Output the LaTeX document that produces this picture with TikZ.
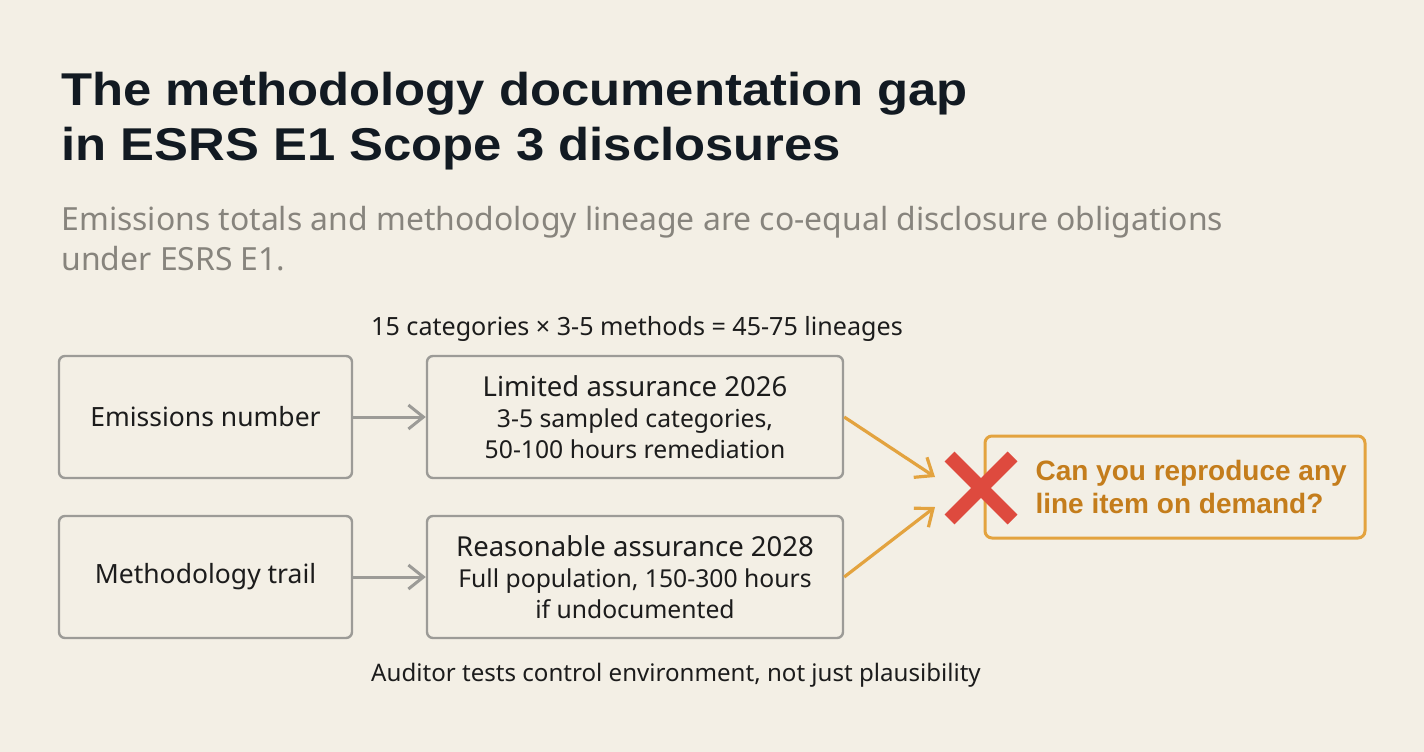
\documentclass[tikz,border=0pt]{standalone}
\usepackage{fontspec}
\setmainfont{Noto Sans}
\newfontfamily\headfont{Liberation Sans}[FakeStretch=1.105]
\newfontfamily\askfont{Liberation Sans}
\usepackage{tikz}
\usetikzlibrary{arrows.meta, shapes.misc}
\definecolor{paper}{HTML}{F3EFE5}
\definecolor{ink}{HTML}{1C1C1C}
\definecolor{headink}{HTML}{121A22}
\definecolor{subgray}{HTML}{87847D}
\definecolor{boxgray}{HTML}{9C9B97}
\definecolor{amber}{HTML}{E3A33F}
\definecolor{goldtext}{HTML}{C47D1C}
\definecolor{crossred}{HTML}{DE4A3E}

\begin{document}
\begin{tikzpicture}[x=1pt, y=-1pt, >={Straight Barb[length=15pt, width=24pt]},
  box/.style={draw=boxgray, line width=2.4pt, rounded corners=6pt, minimum height=122pt, align=center, text=ink},
  link/.style={->, draw=boxgray, line width=3pt},
  hot/.style={->, draw=amber, line width=3.2pt}]
  \fill[paper] (0,0) rectangle (1424,752);
  % title
  \node[anchor=base west, align=left, text=headink, font=\headfont\fontsize{46}{55}\selectfont\bfseries] (title) at (58,160)
    {The methodology documentation gap\\in ESRS E1 Scope 3 disclosures};
  \node[anchor=base west, align=left, text=subgray, font=\fontsize{31.9}{40}\selectfont] (sub) at (58,270)
    {Emissions totals and methodology lineage are co-equal disclosure obligations\\under ESRS E1.};
  % left column
  \node[box, minimum width=293pt, font=\fontsize{26.5}{30}\selectfont] (emis) at (205.5,417) {Emissions number};
  \node[box, minimum width=293pt, font=\fontsize{26.5}{30}\selectfont] (trail) at (205.5,577) {Methodology trail};
  % assurance boxes
  \node[box, minimum width=416pt, font=\fontsize{24.7}{31}\selectfont] (lim) at (635,417)
    {{\fontsize{27.5}{31}\selectfont Limited assurance 2026}\\3-5 sampled categories,\\50-100 hours remediation};
  \node[box, minimum width=416pt, font=\fontsize{24.7}{31}\selectfont] (reas) at (635,577)
    {{\fontsize{27.5}{31}\selectfont Reasonable assurance 2028}\\Full population, 150-300 hours\\if undocumented};
  \node[anchor=base, text=ink, font=\fontsize{25.1}{26}\selectfont] (count) at (637,335)
    {15 categories × 3-5 methods = 45-75 lineages};
  \node[anchor=base, text=ink, font=\fontsize{24.1}{26}\selectfont] (audit) at (676,681)
    {Auditor tests control environment, not just plausibility};
  \draw[link] (emis) -- (lim);
  \draw[link] (trail) -- (reas);
  % outcome
  \node[draw=amber, line width=3pt, rounded corners=7pt, minimum width=380pt, minimum height=102pt] (goal) at (1175,487) {};
  \node[anchor=west, align=left, text=goldtext, font=\askfont\fontsize{28}{33}\selectfont\bfseries] (ask) at (1032,487)
    {Can you reproduce any\\line item on demand?};
  \node[cross out, draw=crossred, line width=14pt, minimum size=63pt, outer sep=0pt] (fail) at (981,488) {};
  \coordinate (in1) at (935,477);
  \coordinate (in2) at (935,507);
  \draw[hot] (lim.east) -- (in1);
  \draw[hot] (reas.east) -- (in2);
\end{tikzpicture}
\end{document}
